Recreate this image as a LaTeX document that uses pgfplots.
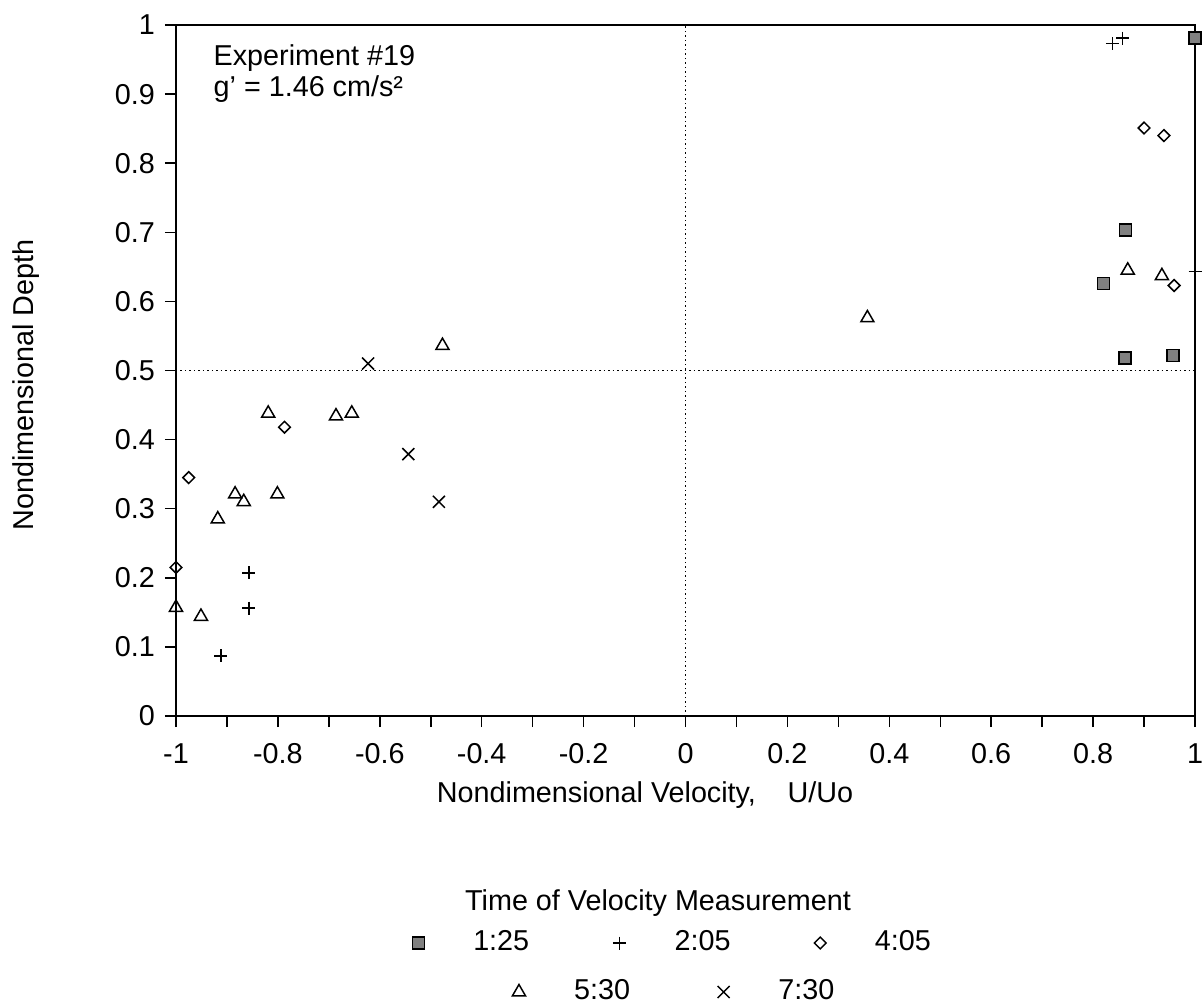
\documentclass[border=0pt]{standalone}
\usepackage{fontspec}
\setmainfont{Liberation Sans}
\usepackage{pgfplots}
\pgfplotsset{compat=1.18}
\pgfplotsset{
  sq/.style={only marks, mark=square*, mark size=2.4pt, mark options={draw=black, fill=black!50, line width=0.6pt}},
  pl/.style={only marks, black, mark=+, mark size=2.6pt, mark options={line width=0.6pt}},
  di/.style={only marks, black, mark=square, mark size=1.65pt, mark options={rotate=45, line width=0.6pt}},
  tr/.style={only marks, black, mark=triangle, mark size=3pt, mark options={line width=0.6pt}},
  cr/.style={only marks, black, mark=x, mark size=3.4pt, mark options={line width=0.6pt}},
  mylegend/.style={draw=none, fill=none, inner sep=0pt, nodes={inner sep=0pt},
     /tikz/every odd column/.append style={column sep=19.5pt}},
  legend image code/.code={\draw[#1] plot coordinates {(0pt,0pt)};},
}
\begin{document}
\fontsize{11.5}{13.8}\selectfont
\begin{tikzpicture}
\useasboundingbox (-70.4pt,-116pt) rectangle (410.8pt,286.4pt);
\begin{axis}[
  at={(0pt,0pt)}, anchor=south west,
  scale only axis, width=407.6pt, height=276.4pt,
  xmin=-1, xmax=1, ymin=0, ymax=1,
  clip=false,
  axis line style={line width=0.7pt},
  xtick={-1,-0.8,-0.6,-0.4,-0.2,0,0.2,0.4,0.6,0.8,1},
  xticklabels={-1,-0.8,-0.6,-0.4,-0.2,0,0.2,0.4,0.6,0.8,1},
  minor xtick={-0.9,-0.7,-0.5,-0.3,-0.1,0.1,0.3,0.5,0.7,0.9},
  ytick={0,0.1,0.2,0.3,0.4,0.5,0.6,0.7,0.8,0.9,1},
  yticklabels={0,0.1,0.2,0.3,0.4,0.5,0.6,0.7,0.8,0.9,1},
  xticklabel style={yshift=-2.5pt},
  tick align=outside, tick pos=left,
  major tick length=4.4pt, minor tick length=4.4pt,
  tick style={black, line width=0.6pt},
  xlabel={Nondimensional Velocity,\hspace{1.1em}U/Uo},
  ylabel={Nondimensional Depth},
  xlabel style={at={(axis description cs:0.4603,-0.1245)}, anchor=base},
  ylabel style={at={(axis description cs:-0.147,0.479)}, anchor=center},
  legend columns=3,
  legend style={mylegend, at={(axis description cs:0.2316,-0.3285)}, anchor=west,
     /tikz/every even column/.append style={column sep=33.5pt}},
]
\addplot[black, line width=0.5pt, dash pattern=on 0.6pt off 1.2pt, forget plot] coordinates {(0,0) (0,1)};
\addplot[black, line width=0.5pt, dash pattern=on 0.6pt off 1.2pt, forget plot] coordinates {(-1,0.5) (1,0.5)};
\addplot[sq] coordinates {(1.0,0.981) (0.864,0.703) (0.820,0.626) (0.863,0.518) (0.957,0.522)};
\addlegendentry{1:25}
\addplot[pl] coordinates {(0.838,0.973) (0.858,0.981) (1.0,0.643) (-0.857,0.207) (-0.857,0.156) (-0.912,0.087)};
\addlegendentry{2:05}
\addplot[di] coordinates {(0.900,0.851) (0.939,0.840) (0.959,0.623) (-0.787,0.418) (-0.975,0.345) (-1.0,0.215)};
\addlegendentry{4:05}
\addplot[tr, forget plot] coordinates {(0.868,0.645) (0.935,0.637) (0.357,0.576) (-0.477,0.536) (-0.819,0.438) (-0.686,0.434) (-0.655,0.438) (-0.884,0.321) (-0.801,0.321) (-0.867,0.310) (-0.918,0.285) (-1.0,0.157) (-0.951,0.144)};
\addplot[cr, forget plot] coordinates {(-0.623,0.510) (-0.544,0.379) (-0.484,0.310)};
\node[anchor=base west, inner sep=0pt] at (axis cs:-0.927,0.942) {Experiment \#19};
\node[anchor=base west, inner sep=0pt] at (axis cs:-0.927,0.896) {g' = 1.46 cm/s²};
\node[anchor=base] at (axis description cs:0.473,-0.2808) {Time of Velocity Measurement};
\end{axis}
\begin{axis}[
  at={(0pt,0pt)}, anchor=south west,
  scale only axis, width=407.6pt, height=276.4pt,
  hide axis, xmin=0, xmax=1, ymin=0, ymax=1,
  legend columns=2,
  legend style={mylegend, at={(axis description cs:0.3297,-0.3994)}, anchor=west,
     /tikz/every even column/.append style={column sep=35pt}},
]
\addlegendimage{tr}\addlegendentry{5:30}
\addlegendimage{cr}\addlegendentry{7:30}
\end{axis}
\end{tikzpicture}
\end{document}
